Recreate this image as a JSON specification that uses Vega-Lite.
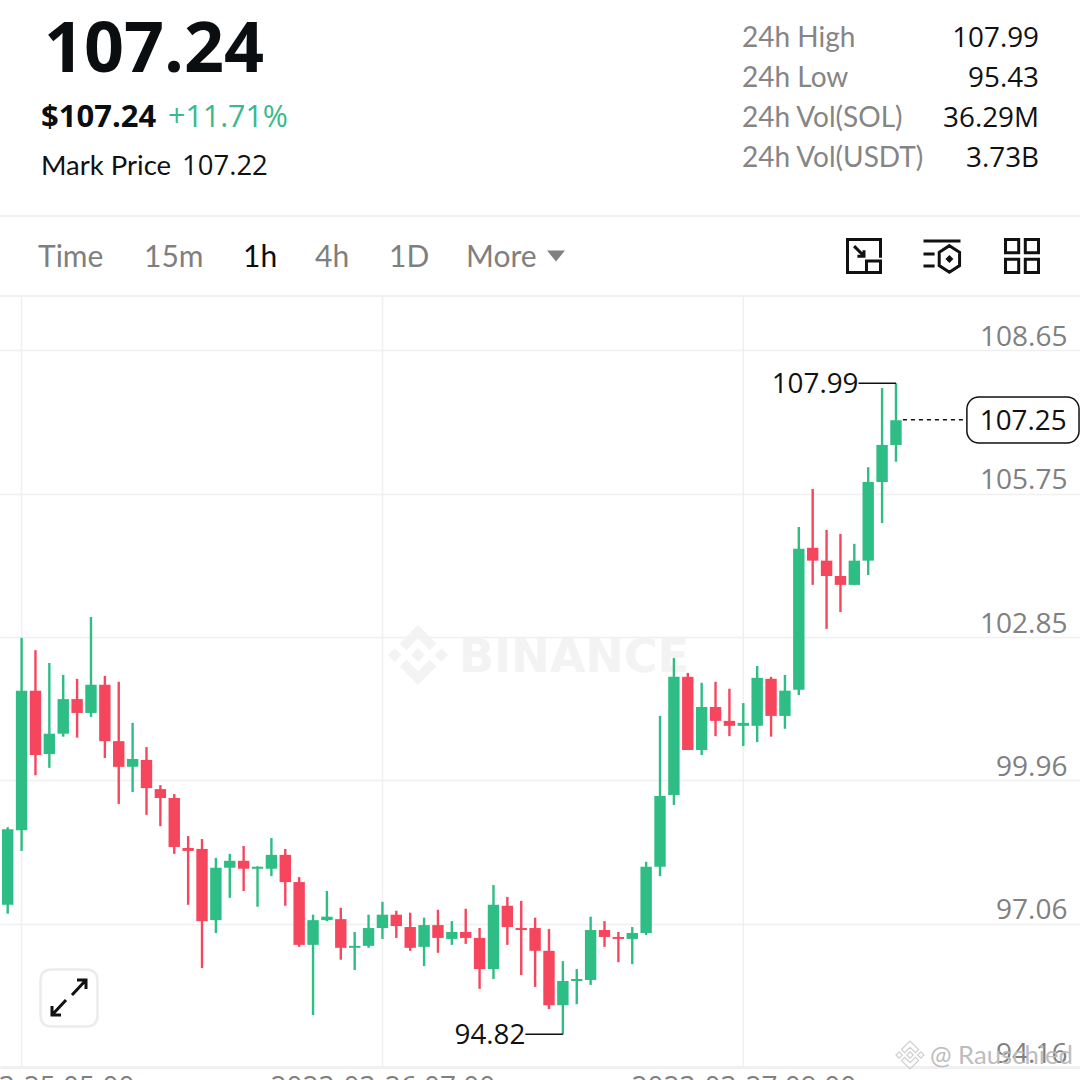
{
"$schema":"https://vega.github.io/schema/vega-lite/v6.json",
"width":1080,"height":1067,
"autosize":{"type":"none"},
"padding":{"left":0,"top":0,"right":0,"bottom":13},
"background":"white",
"config":{"view":{"stroke":null},"font":"Lato"},
"datasets":{
"candles":[
{"t":"2023-03-25T04:00:00Z","open":97.44,"high":99.01,"low":97.26,"close":98.97},
{"t":"2023-03-25T05:00:00Z","open":98.95,"high":102.84,"low":98.53,"close":101.77},
{"t":"2023-03-25T06:00:00Z","open":101.77,"high":102.59,"low":100.06,"close":100.47},
{"t":"2023-03-25T07:00:00Z","open":100.49,"high":102.33,"low":100.21,"close":100.90},
{"t":"2023-03-25T08:00:00Z","open":100.90,"high":102.09,"low":100.84,"close":101.60},
{"t":"2023-03-25T09:00:00Z","open":101.60,"high":102.01,"low":100.82,"close":101.32},
{"t":"2023-03-25T10:00:00Z","open":101.32,"high":103.26,"low":101.24,"close":101.89},
{"t":"2023-03-25T11:00:00Z","open":101.89,"high":102.07,"low":100.41,"close":100.75},
{"t":"2023-03-25T12:00:00Z","open":100.75,"high":101.95,"low":99.48,"close":100.23},
{"t":"2023-03-25T13:00:00Z","open":100.23,"high":101.12,"low":99.72,"close":100.39},
{"t":"2023-03-25T14:00:00Z","open":100.37,"high":100.63,"low":99.26,"close":99.80},
{"t":"2023-03-25T15:00:00Z","open":99.78,"high":99.86,"low":99.03,"close":99.60},
{"t":"2023-03-25T16:00:00Z","open":99.60,"high":99.68,"low":98.47,"close":98.61},
{"t":"2023-03-25T17:00:00Z","open":98.59,"high":98.83,"low":97.44,"close":98.53},
{"t":"2023-03-25T18:00:00Z","open":98.57,"high":98.77,"low":96.16,"close":97.11},
{"t":"2023-03-25T19:00:00Z","open":97.13,"high":98.39,"low":96.87,"close":98.19},
{"t":"2023-03-25T20:00:00Z","open":98.19,"high":98.47,"low":97.58,"close":98.33},
{"t":"2023-03-25T21:00:00Z","open":98.33,"high":98.63,"low":97.72,"close":98.17},
{"t":"2023-03-25T22:00:00Z","open":98.17,"high":98.22,"low":97.40,"close":98.21},
{"t":"2023-03-25T23:00:00Z","open":98.17,"high":98.79,"low":98.02,"close":98.45},
{"t":"2023-03-26T00:00:00Z","open":98.45,"high":98.57,"low":97.42,"close":97.90},
{"t":"2023-03-26T01:00:00Z","open":97.90,"high":98.00,"low":96.59,"close":96.63},
{"t":"2023-03-26T02:00:00Z","open":96.63,"high":97.24,"low":95.21,"close":97.13},
{"t":"2023-03-26T03:00:00Z","open":97.13,"high":97.72,"low":97.11,"close":97.20},
{"t":"2023-03-26T04:00:00Z","open":97.15,"high":97.38,"low":96.33,"close":96.57},
{"t":"2023-03-26T05:00:00Z","open":96.57,"high":96.89,"low":96.12,"close":96.61},
{"t":"2023-03-26T06:00:00Z","open":96.61,"high":97.24,"low":96.57,"close":96.97},
{"t":"2023-03-26T07:00:00Z","open":96.97,"high":97.50,"low":96.75,"close":97.24},
{"t":"2023-03-26T08:00:00Z","open":97.24,"high":97.32,"low":96.77,"close":97.01},
{"t":"2023-03-26T09:00:00Z","open":96.99,"high":97.28,"low":96.51,"close":96.57},
{"t":"2023-03-26T10:00:00Z","open":96.59,"high":97.18,"low":96.20,"close":97.03},
{"t":"2023-03-26T11:00:00Z","open":97.03,"high":97.34,"low":96.47,"close":96.77},
{"t":"2023-03-26T12:00:00Z","open":96.75,"high":97.11,"low":96.63,"close":96.89},
{"t":"2023-03-26T13:00:00Z","open":96.89,"high":97.36,"low":96.65,"close":96.77},
{"t":"2023-03-26T14:00:00Z","open":96.77,"high":96.97,"low":95.74,"close":96.14},
{"t":"2023-03-26T15:00:00Z","open":96.14,"high":97.84,"low":95.94,"close":97.44},
{"t":"2023-03-26T16:00:00Z","open":97.42,"high":97.60,"low":96.63,"close":96.99},
{"t":"2023-03-26T17:00:00Z","open":96.97,"high":97.52,"low":96.02,"close":96.93},
{"t":"2023-03-26T18:00:00Z","open":96.97,"high":97.18,"low":95.78,"close":96.51},
{"t":"2023-03-26T19:00:00Z","open":96.51,"high":96.95,"low":95.33,"close":95.41},
{"t":"2023-03-26T20:00:00Z","open":95.41,"high":96.30,"low":94.82,"close":95.90},
{"t":"2023-03-26T21:00:00Z","open":95.90,"high":96.14,"low":95.43,"close":95.94},
{"t":"2023-03-26T22:00:00Z","open":95.92,"high":97.20,"low":95.82,"close":96.93},
{"t":"2023-03-26T23:00:00Z","open":96.93,"high":97.11,"low":96.59,"close":96.79},
{"t":"2023-03-27T00:00:00Z","open":96.79,"high":96.89,"low":96.28,"close":96.75},
{"t":"2023-03-27T01:00:00Z","open":96.75,"high":96.99,"low":96.24,"close":96.87},
{"t":"2023-03-27T02:00:00Z","open":96.87,"high":98.31,"low":96.83,"close":98.21},
{"t":"2023-03-27T03:00:00Z","open":98.21,"high":101.26,"low":98.02,"close":99.64},
{"t":"2023-03-27T04:00:00Z","open":99.66,"high":102.43,"low":99.46,"close":102.05},
{"t":"2023-03-27T05:00:00Z","open":102.05,"high":102.13,"low":100.57,"close":100.57},
{"t":"2023-03-27T06:00:00Z","open":100.57,"high":101.93,"low":100.47,"close":101.44},
{"t":"2023-03-27T07:00:00Z","open":101.44,"high":101.95,"low":100.85,"close":101.16},
{"t":"2023-03-27T08:00:00Z","open":101.16,"high":101.81,"low":100.85,"close":101.06},
{"t":"2023-03-27T09:00:00Z","open":101.06,"high":101.52,"low":100.65,"close":101.12},
{"t":"2023-03-27T10:00:00Z","open":101.06,"high":102.27,"low":100.73,"close":102.03},
{"t":"2023-03-27T11:00:00Z","open":102.01,"high":102.05,"low":100.84,"close":101.26},
{"t":"2023-03-27T12:00:00Z","open":101.26,"high":102.09,"low":101.00,"close":101.77},
{"t":"2023-03-27T13:00:00Z","open":101.79,"high":105.08,"low":101.68,"close":104.64},
{"t":"2023-03-27T14:00:00Z","open":104.66,"high":105.85,"low":103.91,"close":104.40},
{"t":"2023-03-27T15:00:00Z","open":104.40,"high":105.02,"low":103.02,"close":104.09},
{"t":"2023-03-27T16:00:00Z","open":104.09,"high":104.94,"low":103.36,"close":103.91},
{"t":"2023-03-27T17:00:00Z","open":103.91,"high":104.74,"low":103.91,"close":104.40},
{"t":"2023-03-27T18:00:00Z","open":104.40,"high":106.29,"low":104.11,"close":105.99},
{"t":"2023-03-27T19:00:00Z","open":105.99,"high":107.89,"low":105.16,"close":106.74},
{"t":"2023-03-27T20:00:00Z","open":106.74,"high":107.99,"low":106.40,"close":107.24}
]
},
"resolve":{"scale":{"x":"independent","y":"independent"},"axis":{"x":"independent","y":"independent"}},
"layer":[
{
"encoding":{
"x":{"field":"cx","type":"quantitative","axis":null,"scale":{"domain":[0,1],"range":[418,459],"nice":false,"zero":false}},
"y":{"field":"cy","type":"quantitative","axis":null,"scale":{"domain":[0,1],"range":[655,672],"nice":false,"zero":false}}
},
"layer":[
{"data":{"values":[{"name":"logo","cx":0,"cy":0}]},
 "mark":{"type":"point","filled":true,"color":"#f3f3f3","opacity":1,"size":3600,"shape":"M-.388 -.16L0 -.548L.389 -.159L.615 -.385L0 -1L-.614 -.385ZM-1 0L-.774 -.226L-.548 0L-.774 .226ZM-.388 .16L0 .548L.389 .159L.615 .385L0 1L-.614 .385ZM.548 0L.774 -.226L1 0L.774 .226ZM.23 0L0 -.23L-.23 0L0 .23Z"}},
{"data":{"values":[{"label":"BINANCE","cx":1,"cy":1}]},
 "mark":{"type":"text","align":"left","baseline":"alphabetic","font":"DejaVu Sans","fontWeight":700,"fontSize":46,"fill":"#f3f3f3"},
 "encoding":{"text":{"field":"label"}}}
]
},
{
"layer":[
{"data":{"values":[{"level":111.37},{"level":109.75}]},
 "mark":{"type":"rule","color":"#f0f0f0","strokeWidth":2},
 "encoding":{"y":{"field":"level","type":"quantitative"}}},
{"data":{"values":[{"t":"2023-03-25T05:00:00Z","lo":94.16,"hi":109.75},{"t":"2023-03-26T07:00:00Z","lo":94.16,"hi":109.75},{"t":"2023-03-27T09:00:00Z","lo":94.16,"hi":109.75}]},
 "mark":{"type":"rule","color":"#f0f0f0","strokeWidth":1.5},
 "encoding":{
  "x":{"field":"t","type":"temporal",
   "scale":{"type":"utc","nice":false,"padding":0,"domain":[{"year":2023,"month":3,"date":25,"hours":3,"minutes":26,"seconds":42,"utc":true},{"year":2023,"month":3,"date":28,"hours":9,"minutes":15,"seconds":36,"utc":true}]},
   "axis":{"title":null,"orient":"bottom","values":["2023-03-25T05:00:00Z","2023-03-26T07:00:00Z","2023-03-27T09:00:00Z"],"format":"%Y-%m-%d %H:%M","grid":false,"ticks":false,"domain":true,"domainColor":"#f0f0f0","domainWidth":3,"labelFont":"Open Sans","labelFontSize":28,"labelColor":"#808080","labelPadding":6,"labelLimit":0,"labelOverlap":false,"labelBound":false,"labelFlush":false,"labelBaseline":"top"}},
  "y":{"field":"lo","type":"quantitative",
   "scale":{"domain":[94.16,115.738],"nice":false,"zero":false},
   "axis":{"title":null,"orient":"right","values":[94.16,97.06,99.96,102.85,105.75,108.65],"format":".2f","grid":true,"gridColor":"#f0f0f0","gridWidth":1.5,"ticks":false,"domain":false,"labelFont":"Open Sans","labelFontSize":28,"labelColor":"#808080","labelAlign":"right","labelBaseline":"alphabetic","labelPadding":-13,"labelOffset":-5,"labelOverlap":false,"labelBound":false,"labelFlush":false}},
  "y2":{"field":"hi"}
 }},
{"data":{"name":"candles"},
 "mark":{"type":"rule","strokeWidth":2.4},
 "encoding":{
  "x":{"field":"t","type":"temporal"},
  "y":{"field":"low","type":"quantitative"},
  "y2":{"field":"high"},
  "color":{"condition":{"test":"datum.close>=datum.open","value":"#2EBD85"},"value":"#F6465D"}
 }},
{"data":{"name":"candles"},
 "mark":{"type":"bar","size":11.4},
 "encoding":{
  "x":{"field":"t","type":"temporal"},
  "y":{"field":"open","type":"quantitative"},
  "y2":{"field":"close"},
  "color":{"condition":{"test":"datum.close>=datum.open","value":"#2EBD85"},"value":"#F6465D"}
 }},
{"data":{"values":[{"price":107.25,"from":"2023-03-27T20:30:00Z","to":"2023-03-28T01:06:36Z"}]},
 "mark":{"type":"rule","color":"#111111","strokeWidth":1.5,"strokeDash":[4,4]},
 "encoding":{"x":{"field":"from","type":"temporal"},"x2":{"field":"to"},"y":{"field":"price","type":"quantitative"}}},
{"data":{"values":[{"price":107.99,"from":"2023-03-27T17:18:00Z","to":"2023-03-27T20:00:00Z"},{"price":94.82,"from":"2023-03-26T17:18:00Z","to":"2023-03-26T20:00:00Z"}]},
 "mark":{"type":"rule","color":"#111111","strokeWidth":1.5},
 "encoding":{"x":{"field":"from","type":"temporal"},"x2":{"field":"to"},"y":{"field":"price","type":"quantitative"}}},
{"data":{"values":[{"price":107.99,"at":"2023-03-27T17:18:00Z"},{"price":94.82,"at":"2023-03-26T17:18:00Z"}]},
 "mark":{"type":"text","align":"right","baseline":"middle","font":"Open Sans","fontSize":27.8,"fill":"#111111","dx":0,"dy":1.5},
 "encoding":{"x":{"field":"at","type":"temporal"},"y":{"field":"price","type":"quantitative"},"text":{"field":"price","type":"quantitative","format":".2f"}}},
{"data":{"values":[{"p0":106.78,"p1":107.71,"t0":"2023-03-28T01:06:36Z","t1":"2023-03-28T09:11:24Z"}]},
 "mark":{"type":"rect","fill":"white","stroke":"#111111","strokeWidth":1.5,"cornerRadius":12},
 "encoding":{"x":{"field":"t0","type":"temporal"},"x2":{"field":"t1"},"y":{"field":"p0","type":"quantitative"},"y2":{"field":"p1"}}},
{"data":{"values":[{"price":107.25,"at":"2023-03-28T05:10:00Z"}]},
 "mark":{"type":"text","align":"center","baseline":"middle","font":"Open Sans","fontSize":27.8,"fill":"#111111","dy":2},
 "encoding":{"x":{"field":"at","type":"temporal"},"y":{"field":"price","type":"quantitative"},"text":{"field":"price","type":"quantitative","format":".2f"}}}
]
},
{
"encoding":{
"x":{"field":"cx","type":"quantitative","axis":null,"scale":{"domain":[0,1,2,3,4,5,6,7,8,9,10,11,12,13,14,15,16,17,18],"range":[38,41,44,69,144,168,182,243,315,389,466,556,742,864,910,930,942,1022,1039],"nice":false,"zero":false}},
"y":{"field":"cy","type":"quantitative","axis":null,"scale":{"domain":[0,1,2,3,4,5,6,7,8,9,10],"range":[47,72,87,127,167,175,256,267,998,1055,1064],"nice":false,"zero":false}}
},
"layer":[
{"data":{"values":[{"label":"107.24","cx":2,"cy":1}]},
 "mark":{"type":"text","align":"left","baseline":"alphabetic","font":"Open Sans","fontWeight":700,"fontSize":70,"fill":"#0b0e11"},
 "encoding":{"text":{"field":"label"}}},
{"data":{"values":[{"label":"$107.24","cx":1,"cy":3}]},
 "mark":{"type":"text","align":"left","baseline":"alphabetic","font":"Open Sans","fontWeight":700,"fontSize":31,"fill":"#0b0e11"},
 "encoding":{"text":{"field":"label"}}},
{"data":{"values":[{"label":"+11.71%","cx":5,"cy":3}]},
 "mark":{"type":"text","align":"left","baseline":"alphabetic","font":"Open Sans","fontSize":30.4,"fill":"#3bb98b"},
 "encoding":{"text":{"field":"label"}}},
{"data":{"values":[{"label":"Mark Price","cx":1,"cy":5}]},
 "mark":{"type":"text","align":"left","baseline":"alphabetic","font":"Lato","fontSize":27.5,"fill":"#111111"},
 "encoding":{"text":{"field":"label"}}},
{"data":{"values":[{"label":"107.22","cx":6,"cy":5}]},
 "mark":{"type":"text","align":"left","baseline":"alphabetic","font":"Open Sans","fontSize":27.5,"fill":"#111111"},
 "encoding":{"text":{"field":"label"}}},
{"data":{"values":[{"label":"Time","cx":0,"cy":7},{"label":"15m","cx":4,"cy":7},{"label":"4h","cx":8,"cy":7},{"label":"1D","cx":9,"cy":7},{"label":"More","cx":10,"cy":7}]},
 "mark":{"type":"text","align":"left","baseline":"alphabetic","font":"Lato","fontSize":30,"fill":"#7f7f7f"},
 "encoding":{"text":{"field":"label"}}},
{"data":{"values":[{"label":"1h","cx":7,"cy":7}]},
 "mark":{"type":"text","align":"left","baseline":"alphabetic","font":"Lato","fontSize":30,"fill":"#0b0e11"},
 "encoding":{"text":{"field":"label"}}},
{"data":{"values":[{"label":"24h High","cx":12,"cy":0},{"label":"24h Low","cx":12,"cy":2},{"label":"24h Vol(SOL)","cx":12,"cy":3},{"label":"24h Vol(USDT)","cx":12,"cy":4}]},
 "mark":{"type":"text","align":"left","baseline":"alphabetic","font":"Lato","fontSize":28,"fill":"#858585"},
 "encoding":{"text":{"field":"label"}}},
{"data":{"values":[{"label":"107.99","cx":18,"cy":0},{"label":"95.43","cx":18,"cy":2},{"label":"36.29M","cx":18,"cy":3},{"label":"3.73B","cx":18,"cy":4}]},
 "mark":{"type":"text","align":"right","baseline":"alphabetic","font":"Open Sans","fontSize":27.8,"fill":"#111111"},
 "encoding":{"text":{"field":"label"}}},
{"data":{"values":[{"name":"caret","cx":11,"cy":6}]},
 "mark":{"type":"point","filled":true,"opacity":1,"color":"#808080","size":1600,"shape":"M-.45 -.28H.45L0 .28Z"}},
{"data":{"values":[{"name":"fit","cx":13,"cy":6}]},
 "mark":{"type":"point","filled":false,"opacity":1,"stroke":"#111111","strokeWidth":3,"size":1089,"shape":"M1 .1V-1H-1V1H.1M.15 .3H1V1H.15ZM-.6 -.6L0 0M0 -.35V.02H-.4"}},
{"data":{"values":[{"name":"indicators","cx":16,"cy":6}]},
 "mark":{"type":"point","filled":false,"opacity":1,"stroke":"#111111","strokeWidth":3,"size":1369,"shape":"M-1 -.81H1M-1 -.11H-.4M-1 .54H-.4M.4 -.56L.95 -.2V.52L.4 .88L-.15 .52V-.2ZM.4 .06L.5 .16L.4 .26L.3 .16Z"}},
{"data":{"values":[{"name":"layout","cx":17,"cy":6}]},
 "mark":{"type":"point","filled":false,"opacity":1,"stroke":"#111111","strokeWidth":3,"size":1089,"shape":"M-1 -1H-.2V-.2H-1ZM.2 -1H1V-.2H.2ZM-1 .2H-.2V1H-1ZM.2 .2H1V1H.2Z"}},
{"data":{"values":[{"name":"expand box","cx":3,"cy":8}]},
 "mark":{"type":"point","filled":false,"opacity":1,"stroke":"#ececec","strokeWidth":2.5,"size":3249,"shape":"M-.6 -1H.6Q1 -1 1 -.6V.6Q1 1 .6 1H-.6Q-1 1 -1 .6V-.6Q-1 -1 -.6 -1Z"}},
{"data":{"values":[{"name":"expand arrows","cx":3,"cy":8}]},
 "mark":{"type":"point","filled":false,"opacity":1,"stroke":"#111111","strokeWidth":3,"size":1600,"shape":"M-.85 .85L-.15 .1M-.4 .85H-.85V.4M.85 -.9L.15 -.15M.4 -.9H.85V-.45"}},
{"data":{"values":[{"name":"small logo","cx":14,"cy":9}]},
 "mark":{"type":"point","filled":false,"opacity":1,"stroke":"#cfcfcf","strokeWidth":1.2,"size":784,"shape":"M-.388 -.16L0 -.548L.389 -.159L.615 -.385L0 -1L-.614 -.385ZM-1 0L-.774 -.226L-.548 0L-.774 .226ZM-.388 .16L0 .548L.389 .159L.615 .385L0 1L-.614 .385ZM.548 0L.774 -.226L1 0L.774 .226ZM.23 0L0 -.23L-.23 0L0 .23Z"}},
{"data":{"values":[{"label":"@ Rauschied","cx":15,"cy":10}]},
 "mark":{"type":"text","align":"left","baseline":"alphabetic","font":"Lato","fontSize":25.7,"fill":"#bdbdbd"},
 "encoding":{"text":{"field":"label"}}}
]
}
]
}
